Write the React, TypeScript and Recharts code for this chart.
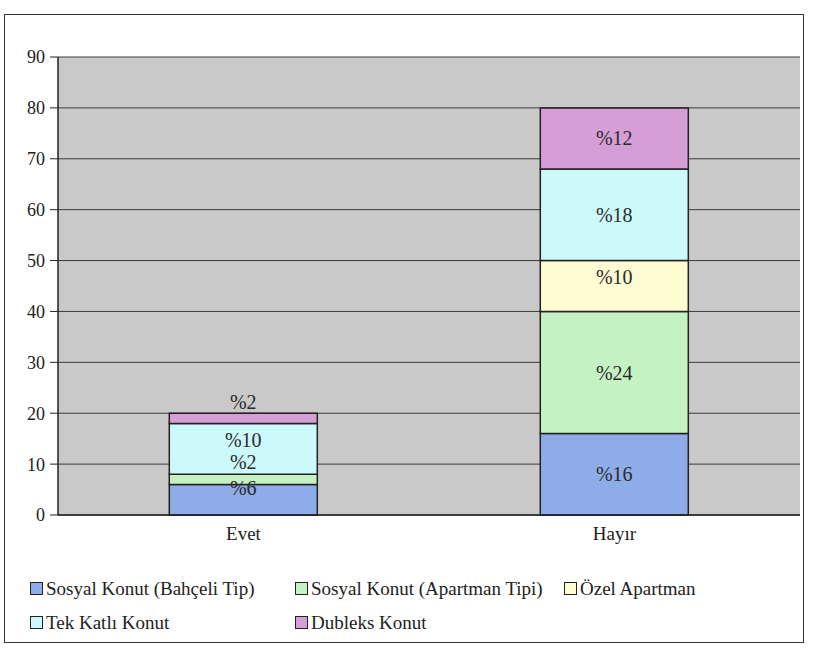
import React from 'react';
import { BarChart, Bar, XAxis, YAxis, CartesianGrid, LabelList } from 'recharts';

const categories = ['Evet', 'Hayır'];
const seriesNames = [
  'Sosyal Konut (Bahçeli Tip)',
  'Sosyal Konut (Apartman Tipi)',
  'Özel Apartman',
  'Tek Katlı Konut',
  'Dubleks Konut',
];
const bahceli = [6, 16];
const apartmanTipi = [2, 24];
const ozelApartman = [0, 10];
const tekKatli = [10, 18];
const dubleks = [2, 12];
const yTicks = [0, 10, 20, 30, 40, 50, 60, 70, 80, 90];

const colors = ['#8eace8', '#c4f2c2', '#fffbd2', '#ccfafa', '#d69ed6'];
const keys = ['bahceli', 'apartmanTipi', 'ozelApartman', 'tekKatli', 'dubleks'];

const data = categories.map((name, i) => ({
  name,
  bahceli: bahceli[i],
  apartmanTipi: apartmanTipi[i],
  ozelApartman: ozelApartman[i],
  tekKatli: tekKatli[i],
  dubleks: dubleks[i],
}));

const font = "'Liberation Serif', 'DejaVu Serif', serif";

// Excel moved the labels of the thin "Evet" segments around; mimic that
const evetPlacement = ['top', 'aboveTop', 'center', 'center', 'above'];

const makeLabel = (series: number) => (props: any) => {
  const { x, y, width, height, value, index } = props;
  if (!value) return null;
  const cx = Number(x) + Number(width) / 2;
  let cy = Number(y) + Number(height) / 2;
  if (index === 0) {
    const mode = evetPlacement[series];
    if (mode === 'top') cy = Number(y) + 4;
    if (mode === 'aboveTop') cy = Number(y) - 12;
    if (mode === 'center') cy = cy - 9;
    if (mode === 'above') cy = Number(y) - 11;
  }
  return (
    <text x={cx} y={cy} textAnchor="middle" dominantBaseline="central" style={{ fontFamily: font }} fontSize={20} fill="#2a2a2a">
      {'%' + value}
    </text>
  );
};

function LegendBox({ color }: { color: string }) {
  return (
    <span
      style={{
        display: 'inline-block',
        width: 11,
        height: 11,
        background: color,
        border: '1.5px solid #222',
        marginRight: 3,
        verticalAlign: 'middle',
      }}
    />
  );
}

export default function App() {
  const legendRows = [
    [0, 1, 2],
    [3, 4],
  ];
  const colLeft = [30, 295, 564];
  return (
    <div style={{ position: 'absolute', left: 0, top: 0, width: 817, height: 649, background: '#fff', overflow: 'hidden', fontFamily: font }}>
      <div
        style={{
          position: 'absolute',
          left: 4,
          top: 14,
          width: 800,
          height: 629,
          border: '1px solid #333',
          boxSizing: 'border-box',
        }}
      />
      <div style={{ position: 'absolute', left: 0, top: 0 }}>
        <BarChart
          width={817}
          height={649}
          data={data}
          margin={{ top: 57, right: 17, bottom: 104, left: 0 }}
          barCategoryGap="30%"
          style={{ fontFamily: font }}
        >
          <CartesianGrid vertical={false} fill="#c9c9c9" stroke="#3a3a3a" strokeWidth={1} />
          <XAxis
            dataKey="name"
            height={30}
            tickLine={false}
            axisLine={{ stroke: '#222', strokeWidth: 1.5 }}
            tick={{ fontSize: 19, fill: '#222', style: { fontFamily: font } }}
            tickMargin={6}
          />
          <YAxis
            width={58}
            domain={[0, 90]}
            ticks={yTicks}
            interval={0}
            tickSize={8}
            tickMargin={5}
            axisLine={{ stroke: '#222', strokeWidth: 1.5 }}
            tickLine={{ stroke: '#222' }}
            tick={{ fontSize: 18, fill: '#222', style: { fontFamily: font } }}
          />
          {keys.map((k, s) => (
            <Bar
              key={k}
              dataKey={k}
              name={seriesNames[s]}
              stackId="a"
              fill={colors[s]}
              stroke="#222"
              strokeWidth={1.5}
              isAnimationActive={false}
            >
              <LabelList dataKey={k} content={makeLabel(s)} />
            </Bar>
          ))}
        </BarChart>
      </div>
      {legendRows.map((row, r) =>
        row.map((s, c) => (
          <div
            key={s}
            style={{
              position: 'absolute',
              left: colLeft[c],
              top: r === 0 ? 576 : 610,
              fontSize: 19,
              color: '#222',
              whiteSpace: 'nowrap',
            }}
          >
            <LegendBox color={colors[s]} />
            <span style={{ verticalAlign: 'middle' }}>{seriesNames[s]}</span>
          </div>
        ))
      )}
    </div>
  );
}
